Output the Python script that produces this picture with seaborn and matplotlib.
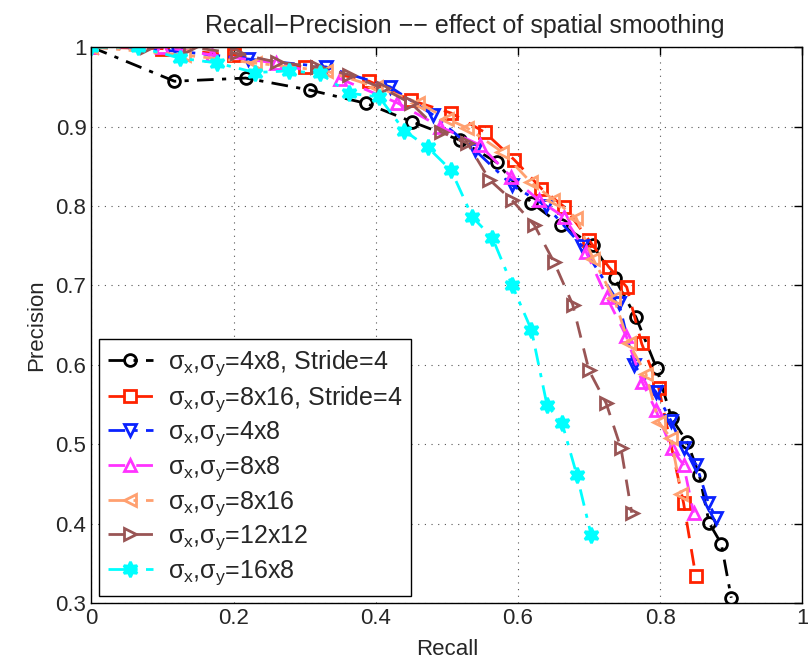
import numpy as np
import matplotlib
matplotlib.use("Agg")
import matplotlib.pyplot as plt
import seaborn as sns

# recall / precision
rec_4x8_s4 = [0, 0.117, 0.217, 0.307, 0.387, 0.451, 0.518, 0.570, 0.619, 0.661, 0.705,
              0.736, 0.766, 0.795, 0.816, 0.838, 0.855, 0.869, 0.886, 0.900]
pre_4x8_s4 = [1.0, 0.957, 0.961, 0.946, 0.929, 0.906, 0.883, 0.855, 0.804, 0.776, 0.751,
              0.709, 0.660, 0.596, 0.533, 0.503, 0.462, 0.401, 0.375, 0.307]

rec_8x16_s4 = [0, 0.10, 0.20, 0.30, 0.391, 0.450, 0.506, 0.553, 0.595, 0.633, 0.665,
               0.700, 0.728, 0.753, 0.774, 0.798, 0.833, 0.850]
pre_8x16_s4 = [1.0, 0.998, 0.99, 0.975, 0.957, 0.933, 0.917, 0.893, 0.858, 0.822, 0.799,
               0.757, 0.723, 0.698, 0.627, 0.571, 0.426, 0.335]

rec_4x8 = [0, 0.12, 0.22, 0.33, 0.42, 0.48, 0.54, 0.592, 0.64, 0.69, 0.742, 0.763,
           0.794, 0.815, 0.833, 0.851, 0.868, 0.879]
pre_4x8 = [1.0, 0.995, 0.985, 0.975, 0.95, 0.915, 0.87, 0.826, 0.80, 0.75, 0.678, 0.600,
           0.566, 0.530, 0.495, 0.474, 0.426, 0.407]

rec_8x8 = [0, 0.10, 0.17, 0.26, 0.35, 0.43, 0.49, 0.546, 0.590, 0.630, 0.665, 0.696,
           0.725, 0.752, 0.775, 0.794, 0.816, 0.833, 0.847]
pre_8x8 = [1.0, 1.0, 0.99, 0.98, 0.96, 0.93, 0.90, 0.877, 0.837, 0.807, 0.786, 0.742,
           0.685, 0.637, 0.578, 0.543, 0.495, 0.474, 0.414]

rec_8x16 = [0, 0.13, 0.23, 0.33, 0.40, 0.46, 0.50, 0.529, 0.578, 0.618, 0.650, 0.682,
            0.706, 0.735, 0.756, 0.780, 0.798, 0.815, 0.830]
pre_8x16 = [1.0, 0.99, 0.98, 0.97, 0.95, 0.93, 0.91, 0.898, 0.868, 0.830, 0.808, 0.785,
            0.733, 0.684, 0.627, 0.589, 0.528, 0.508, 0.438]

rec_12x12 = [0, 0.079, 0.139, 0.205, 0.261, 0.318, 0.363, 0.410, 0.450, 0.492, 0.529,
             0.560, 0.592, 0.623, 0.651, 0.677, 0.700, 0.724, 0.745, 0.760]
pre_12x12 = [1.0, 1.0, 1.0, 0.992, 0.981, 0.975, 0.965, 0.948, 0.929, 0.893, 0.879,
             0.833, 0.807, 0.776, 0.729, 0.676, 0.593, 0.552, 0.495, 0.414]

rec_16x8 = [0, 0.066, 0.125, 0.177, 0.230, 0.278, 0.321, 0.363, 0.405, 0.440, 0.473,
            0.506, 0.536, 0.564, 0.592, 0.619, 0.641, 0.662, 0.683, 0.703]
pre_16x8 = [1.0, 1.0, 0.986, 0.980, 0.968, 0.970, 0.967, 0.942, 0.937, 0.895, 0.874,
            0.845, 0.786, 0.760, 0.700, 0.644, 0.549, 0.527, 0.461, 0.386]

labels = [r'$\sigma_x$,$\sigma_y$=4x8, Stride=4',
          r'$\sigma_x$,$\sigma_y$=8x16, Stride=4',
          r'$\sigma_x$,$\sigma_y$=4x8',
          r'$\sigma_x$,$\sigma_y$=8x8',
          r'$\sigma_x$,$\sigma_y$=8x16',
          r'$\sigma_x$,$\sigma_y$=12x12',
          r'$\sigma_x$,$\sigma_y$=16x8']

series = [(rec_4x8_s4, pre_4x8_s4), (rec_8x16_s4, pre_8x16_s4), (rec_4x8, pre_4x8),
          (rec_8x8, pre_8x8), (rec_8x16, pre_8x16), (rec_12x12, pre_12x12),
          (rec_16x8, pre_16x8)]

colors = ['black', '#ff2200', '#0a22ff', '#ff33ff', '#ffa070', '#995555', '#00ffff']
markers = ['o', 's', 'v', '^', '<', '>', (6, 1, 0)]
dashdot = (0, (6, 3, 1.5, 3))
dashed = (0, (6, 4))
styles = [dashdot, dashed, dashdot, dashed, dashdot, dashed, dashdot]

sns.set_style("white")
plt.rcParams['font.family'] = ['Liberation Sans', 'DejaVu Sans']
plt.rcParams['mathtext.fontset'] = 'custom'
plt.rcParams['mathtext.rm'] = 'Liberation Sans'
plt.rcParams['mathtext.it'] = 'Liberation Sans'

fig = plt.figure(figsize=(8.08, 6.63), dpi=100)
ax = fig.add_axes([0.113, 0.090, 0.880, 0.839])

for i, (r, p) in enumerate(series):
    sns.lineplot(x=np.array(r), y=np.array(p), ax=ax, estimator=None, sort=False,
                 color=colors[i], linestyle=styles[i], linewidth=2.0,
                 marker=markers[i], markersize=8.5 if i < 6 else 11,
                 markerfacecolor='none' if i < 6 else colors[i],
                 markeredgecolor=colors[i], markeredgewidth=2.0,
                 label=labels[i])

ax.set_xlim(0, 1)
ax.set_ylim(0.3, 1.0)
ax.set_xticks([0, 0.2, 0.4, 0.6, 0.8, 1])
ax.set_xticklabels(['0', '0.2', '0.4', '0.6', '0.8', '1'])
ax.set_yticks([0.3, 0.4, 0.5, 0.6, 0.7, 0.8, 0.9, 1.0])
ax.set_yticklabels(['0.3', '0.4', '0.5', '0.6', '0.7', '0.8', '0.9', '1'])
ax.tick_params(direction='in', length=6, width=1, labelsize=16, top=True, right=True,
               color='black')
ax.grid(True, linestyle=(0, (1, 5)), color='#555555', linewidth=0.8)
for s in ax.spines.values():
    s.set_color('black')
    s.set_linewidth(1.0)

ax.set_title('Recall\u2212Precision \u2212\u2212 effect of spatial smoothing', fontsize=18,
             pad=10, x=0.525)
ax.set_xlabel('Recall', fontsize=16, labelpad=7)
ax.set_ylabel('Precision', fontsize=16, labelpad=6)

leg = ax.legend(loc='lower left', fontsize=18, handlelength=1.8, handletextpad=0.6,
                labelspacing=0.24, borderaxespad=0.3, fancybox=False, framealpha=1,
                edgecolor='black', borderpad=0.35)
leg.get_frame().set_linewidth(1.0)

fig.savefig('out.png', dpi=100)
